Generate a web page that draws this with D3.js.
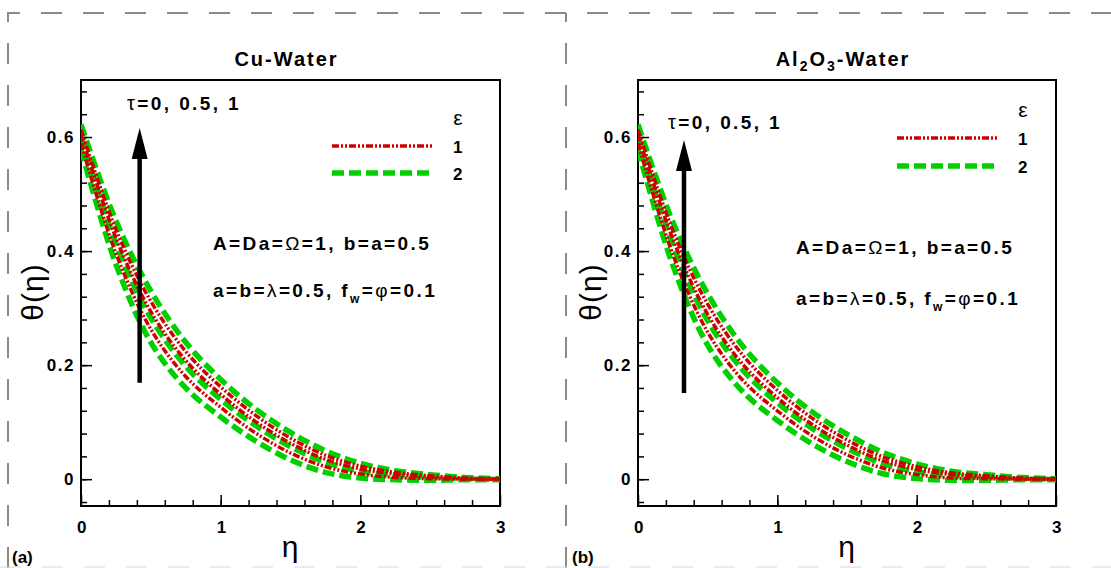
<!DOCTYPE html>
<html>
<head>
<meta charset="utf-8">
<title>Temperature profiles theta(eta), Cu-Water and Al2O3-Water</title>
<script src="https://d3js.org/d3.v7.min.js"></script>
<style>
  body { margin: 0; background: #fff; }
  svg { font-family: "Liberation Sans", Arial, sans-serif; }
  .tick text { font-size: 17px; font-weight: bold; letter-spacing: 1.5px; fill: #000; }
  .tick line { stroke: #000; stroke-width: 1.5; }
  .frame { fill: none; stroke: #000; stroke-width: 2; }
  .outer { stroke: #8a8a8a; stroke-width: 2; stroke-dasharray: 21,21; fill: none; }
  .eps1 { fill: none; stroke: #d00000; stroke-width: 3.5; stroke-dasharray: 7,2,2,2,2,2; }
  .eps2 { fill: none; stroke: #00d000; stroke-width: 5.5; stroke-dasharray: 12,5; }
  .title { font-size: 20px; font-weight: bold; letter-spacing: 2px; }
  .note { font-size: 19px; font-weight: bold; letter-spacing: 2.4px; }
  .sym { font-weight: normal; }
  .axtitle { font-size: 30px; letter-spacing: 1px; }
  .tag { font-size: 17px; font-weight: bold; }
</style>
</head>
<body>
<svg width="1111" height="568"></svg>
<script>
// eta grid (shared by every curve)
var eta = [0, 0.25, 0.5, 0.75, 1, 1.25, 1.5, 1.75, 2, 2.25, 2.5, 2.75, 3];

// (a) Cu-Water
var cuEps1Tau0  = [0.589, 0.396, 0.263, 0.180, 0.126, 0.081, 0.046, 0.022, 0.009, 0.003, 0.001, 0.000, 0.000];
var cuEps1Tau05 = [0.604, 0.423, 0.294, 0.208, 0.149, 0.101, 0.063, 0.035, 0.018, 0.009, 0.004, 0.001, 0.000];
var cuEps1Tau1  = [0.613, 0.438, 0.312, 0.224, 0.162, 0.112, 0.072, 0.042, 0.023, 0.012, 0.006, 0.002, 0.001];
var cuEps2Tau0  = [0.578, 0.377, 0.240, 0.160, 0.109, 0.067, 0.034, 0.012, 0.002, -0.001, -0.002, -0.001, -0.001];
var cuEps2Tau05 = [0.599, 0.413, 0.283, 0.198, 0.140, 0.094, 0.057, 0.030, 0.014, 0.007, 0.003, 0.001, 0.000];
var cuEps2Tau1  = [0.622, 0.453, 0.330, 0.240, 0.175, 0.123, 0.082, 0.050, 0.028, 0.015, 0.008, 0.003, 0.001];

// (b) Al2O3-Water
var alEps1Tau0  = [0.589, 0.394, 0.258, 0.174, 0.120, 0.076, 0.043, 0.020, 0.008, 0.002, 0.001, 0.000, 0.000];
var alEps1Tau05 = [0.604, 0.421, 0.289, 0.202, 0.143, 0.096, 0.060, 0.033, 0.017, 0.008, 0.004, 0.001, 0.000];
var alEps1Tau1  = [0.613, 0.436, 0.307, 0.218, 0.156, 0.107, 0.069, 0.040, 0.022, 0.011, 0.006, 0.002, 0.001];
var alEps2Tau0  = [0.578, 0.375, 0.235, 0.154, 0.103, 0.062, 0.031, 0.010, 0.001, -0.002, -0.002, -0.001, -0.001];
var alEps2Tau05 = [0.599, 0.411, 0.278, 0.192, 0.134, 0.089, 0.054, 0.028, 0.013, 0.006, 0.003, 0.001, 0.000];
var alEps2Tau1  = [0.622, 0.451, 0.325, 0.234, 0.169, 0.118, 0.079, 0.048, 0.027, 0.014, 0.008, 0.003, 0.001];

var xTicks = [0, 1, 2, 3];
var yTicks = [0, 0.2, 0.4, 0.6];
var legendLabels = ["1", "2"];

// arrows: [eta, theta bottom, theta tip]
var cuArrow = [0.42, 0.169, 0.616];
var alArrow = [0.33, 0.151, 0.595];

var svg = d3.select("svg");

// dashed outer frame
svg.append("path").attr("class", "outer").attr("d", "M8,568 V13 H1111");
svg.append("path").attr("class", "outer").attr("d", "M566,568 V13");
svg.append("path").attr("d", "M0,567 H1111")
   .attr("stroke", "#d8d8d8").attr("stroke-width", 1).attr("stroke-dasharray", "21,21");

var panels = [
  { x0: 81, x1: 500, name: "cu", tag: "(a)", tagX: 12,
    red: [cuEps1Tau0, cuEps1Tau05, cuEps1Tau1], green: [cuEps2Tau0, cuEps2Tau05, cuEps2Tau1],
    arrow: cuArrow, titleY: 66, tauX: 127, tauY: 110,
    legX: 332, legY: [146, 173], epsY: 125, noteX: 213, noteY: [250, 297], thetaX: 33 },
  { x0: 638, x1: 1056, name: "al", tag: "(b)", tagX: 572,
    red: [alEps1Tau0, alEps1Tau05, alEps1Tau1], green: [alEps2Tau0, alEps2Tau05, alEps2Tau1],
    arrow: alArrow, titleY: 66, tauX: 668, tauY: 129,
    legX: 897, legY: [138, 166], epsY: 117, noteX: 796, noteY: [254, 305], thetaX: 591 }
];

panels.forEach(function(p) {
  var x = d3.scaleLinear().domain([0, 3]).range([p.x0, p.x1]);
  var y = d3.scaleLinear().domain([-0.047, 0.7]).range([506, 80]);
  var g = svg.append("g");

  // minor ticks
  g.append("g").attr("transform", "translate(0,506)")
   .call(d3.axisBottom(x).tickValues(d3.range(0.2, 3, 0.2)).tickSize(-6).tickFormat(""))
   .call(function(a) { a.select(".domain").remove(); });
  g.append("g").attr("transform", "translate(" + p.x0 + ",0)")
   .call(d3.axisLeft(y).tickValues(d3.range(-0.04, 0.7, 0.04)).tickSize(-6).tickFormat(""))
   .call(function(a) { a.select(".domain").remove(); });

  // major ticks + labels
  g.append("g").attr("transform", "translate(0,506)")
   .call(d3.axisBottom(x).tickValues(xTicks).tickSize(-11).tickPadding(15).tickFormat(d3.format("d")))
   .call(function(a) { a.select(".domain").remove(); a.selectAll("text").attr("dx", 1); });
  g.append("g").attr("transform", "translate(" + p.x0 + ",0)")
   .call(d3.axisLeft(y).tickValues(yTicks).tickSize(-11).tickPadding(6).tickFormat(function(d) { return d === 0 ? "0" : d3.format(".1f")(d); }))
   .call(function(a) { a.select(".domain").remove(); });

  g.append("rect").attr("class", "frame")
   .attr("x", p.x0).attr("y", 80).attr("width", p.x1 - p.x0).attr("height", 426);

  var clipId = "clip-" + p.name;
  svg.append("clipPath").attr("id", clipId).append("rect")
     .attr("x", p.x0).attr("y", 80).attr("width", p.x1 - p.x0).attr("height", 426);

  var line = d3.line()
    .x(function(d, i) { return x(eta[i]); })
    .y(function(d) { return y(d); })
    .curve(d3.curveCatmullRom.alpha(0.5));

  var curves = g.append("g").attr("clip-path", "url(#" + clipId + ")");
  p.green.forEach(function(s) { curves.append("path").attr("class", "eps2").attr("d", line(s)); });
  p.red.forEach(function(s) { curves.append("path").attr("class", "eps1").attr("d", line(s)); });

  // arrow for increasing tau
  var ax = x(p.arrow[0]), ab = y(p.arrow[1]), at = y(p.arrow[2]);
  g.append("line").attr("x1", ax).attr("x2", ax).attr("y1", ab).attr("y2", at + 20)
   .attr("stroke", "#000").attr("stroke-width", 4.5);
  g.append("path").attr("fill", "#000")
   .attr("d", "M" + ax + "," + at + " L" + (ax + 8) + "," + (at + 31) + " L" + (ax - 8) + "," + (at + 31) + "Z");

  // title
  var cx = (p.x0 + p.x1) / 2 - 4;
  var t = g.append("text").attr("class", "title").attr("x", cx).attr("y", p.titleY).attr("text-anchor", "middle");
  if (p.name === "cu") {
    t.text("Cu-Water");
  } else {
    t.append("tspan").text("Al");
    t.append("tspan").attr("dy", 5).attr("font-size", "14px").text("2");
    t.append("tspan").attr("dy", -5).text("O");
    t.append("tspan").attr("dy", 5).attr("font-size", "14px").text("3");
    t.append("tspan").attr("dy", -5).text("-Water");
  }

  // tau label
  var tau = g.append("text").attr("class", "note").attr("x", p.tauX).attr("y", p.tauY)
   .attr("font-size", "18px").attr("letter-spacing", "1.6px");
  tau.append("tspan").attr("class", "sym").attr("font-size", "20px").text("τ");
  tau.append("tspan").text("=0, 0.5, 1");

  // legend
  g.append("text").attr("x", p.legX + 126).attr("y", p.epsY).attr("text-anchor", "middle")
   .attr("font-size", "21px").text("ε");
  ["eps1", "eps2"].forEach(function(c, i) {
    g.append("line").attr("class", c).attr("x1", p.legX).attr("x2", p.legX + 100)
     .attr("y1", p.legY[i]).attr("y2", p.legY[i]);
    g.append("text").attr("class", "tag").attr("font-size", "18px")
     .attr("x", p.legX + 121).attr("y", p.legY[i] + 7).text(legendLabels[i]);
  });

  // parameter notes
  var n1 = g.append("text").attr("class", "note").attr("x", p.noteX).attr("y", p.noteY[0]);
  n1.append("tspan").text("A=Da=");
  n1.append("tspan").attr("class", "sym").text("Ω");
  n1.append("tspan").text("=1, b=a=0.5");
  var n2 = g.append("text").attr("class", "note").attr("x", p.noteX).attr("y", p.noteY[1]);
  n2.append("tspan").text("a=b=");
  n2.append("tspan").attr("class", "sym").text("λ");
  n2.append("tspan").text("=0.5, f");
  n2.append("tspan").attr("dy", 6).attr("font-size", "12px").text("w");
  n2.append("tspan").attr("dy", -6).text("=");
  n2.append("tspan").attr("class", "sym").text("φ");
  n2.append("tspan").text("=0.1");

  // axis titles
  g.append("text").attr("class", "axtitle")
   .attr("transform", "translate(" + (p.thetaX + 10) + ",292) rotate(-90)")
   .attr("text-anchor", "middle").text("θ(η)");
  g.append("text").attr("class", "axtitle").attr("x", x(1.5)).attr("y", 557)
   .attr("text-anchor", "middle").text("η");
  g.append("text").attr("class", "tag").attr("x", p.tagX).attr("y", 563).text(p.tag);
});
</script>
</body>
</html>
